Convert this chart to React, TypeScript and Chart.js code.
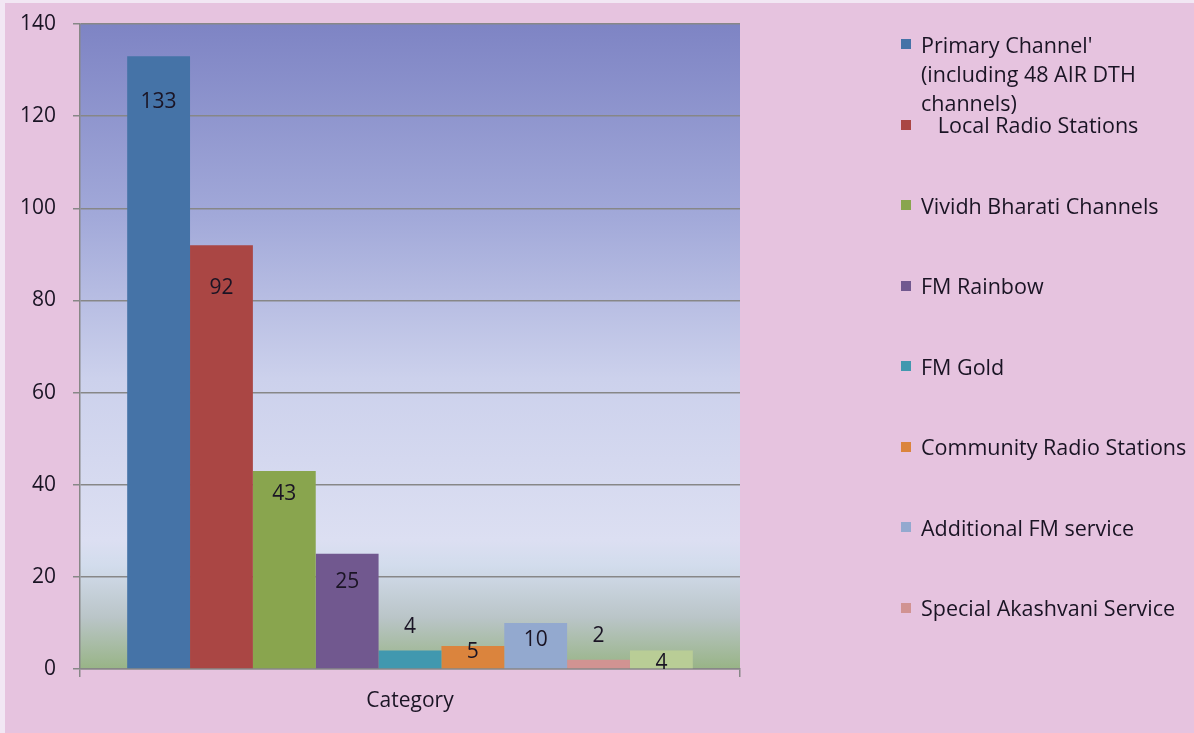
import { useEffect, useRef } from 'react';
import { Chart, registerables } from 'chart.js';

Chart.register(...registerables);

const categories = ['Category'];

const seriesNames = [
  "Primary Channel' (including 48 AIR DTH channels)",
  '   Local Radio Stations',
  'Vividh Bharati Channels',
  'FM Rainbow',
  'FM Gold',
  'Community Radio Stations',
  'Additional FM service',
  'Special Akashvani Service',
  'Other',
];

const seriesValues = [133, 92, 43, 25, 4, 5, 10, 2, 4];

const seriesColors = [
  '#4573A7',
  '#AA4644',
  '#89A54E',
  '#71588F',
  '#4198AF',
  '#DB843D',
  '#93A9CF',
  '#D19392',
  '#B9CD96',
];

// vertical shift of each value label from the top of its bar (px)
const labelOffsets = [46, 43, 23, 28, -24, 6, 17, -24, 12];

// only the first eight series appear in the legend
const legendCount = 8;

const FONT = "'Open Sans', sans-serif";
const TEXT = '#1a1424';
const GRID = '#878787';

const plotBackground = {
  id: 'plotBackground',
  beforeDraw(chart: Chart) {
    const { ctx, chartArea } = chart;
    if (!chartArea) return;
    const g = ctx.createLinearGradient(0, chartArea.top, 0, chartArea.bottom);
    g.addColorStop(0, 'rgb(126,132,196)');
    g.addColorStop(0.3, 'rgb(162,169,217)');
    g.addColorStop(0.55, 'rgb(204,209,236)');
    g.addColorStop(0.8, 'rgb(220,223,242)');
    g.addColorStop(0.84, 'rgb(210,220,236)');
    g.addColorStop(0.92, 'rgb(186,197,200)');
    g.addColorStop(1, 'rgb(152,180,134)');
    ctx.save();
    ctx.fillStyle = g;
    ctx.fillRect(chartArea.left, chartArea.top, chartArea.right - chartArea.left, chartArea.bottom - chartArea.top);
    ctx.restore();
  },
};

const valueLabels = {
  id: 'valueLabels',
  afterDatasetsDraw(chart: Chart) {
    const { ctx } = chart;
    ctx.save();
    ctx.font = `21px ${FONT}`;
    ctx.fillStyle = TEXT;
    ctx.textAlign = 'center';
    ctx.textBaseline = 'middle';
    chart.data.datasets.forEach((ds, i) => {
      const meta = chart.getDatasetMeta(i);
      meta.data.forEach((bar: any, j) => {
        ctx.fillText(String(ds.data[j]), bar.x, bar.y + labelOffsets[i]);
      });
    });
    ctx.restore();
  },
};

export default function App() {
  const canvasRef = useRef<HTMLCanvasElement>(null);
  const chartRef = useRef<Chart | null>(null);

  useEffect(() => {
    if (!canvasRef.current) return;
    chartRef.current?.destroy();

    chartRef.current = new Chart(canvasRef.current, {
      type: 'bar',
      data: {
        labels: categories,
        datasets: seriesNames.map((name, i) => ({
          label: name,
          data: [seriesValues[i]],
          backgroundColor: seriesColors[i],
          borderWidth: 0,
          categoryPercentage: 0.857,
          barPercentage: 1,
        })),
      },
      options: {
        responsive: false,
        animation: false,
        layout: { padding: { top: 24, right: 454, bottom: 0, left: 0 } },
        plugins: {
          legend: { display: false },
          tooltip: { enabled: false },
        },
        scales: {
          y: {
            min: 0,
            max: 140,
            afterFit: (s: any) => {
              s.width = 80;
              s.paddingTop = 0;
              s.paddingBottom = 0;
            },
            ticks: { stepSize: 20, padding: 17, color: TEXT, font: { family: FONT, size: 21 } },
            grid: { color: GRID, lineWidth: 1.5, tickLength: 7 },
            border: { color: GRID, width: 1.5 },
          },
          x: {
            afterFit: (s: any) => {
              s.height = 64;
              s.paddingLeft = 0;
              s.paddingRight = 0;
            },
            ticks: { padding: 11, color: TEXT, font: { family: FONT, size: 21 } },
            grid: { drawOnChartArea: false, color: GRID, lineWidth: 1.5, tickLength: 8 },
            border: { color: GRID, width: 1.5 },
          },
        },
      },
      plugins: [plotBackground, valueLabels],
    });

    return () => {
      chartRef.current?.destroy();
      chartRef.current = null;
    };
  }, []);

  return (
    <div style={{ position: 'fixed', left: 0, top: 0, width: 1194, height: 733, background: '#F2E7F4', overflow: 'hidden' }}>
      <div style={{ position: 'absolute', left: 5, top: 3, right: 0, bottom: 0, background: '#E6C3DF' }} />
      <canvas ref={canvasRef} width={1194} height={733} style={{ position: 'absolute', left: 0, top: 0 }} />
      {seriesNames.slice(0, legendCount).map((name, i) => {
        const center = 44 + i * 80.5;
        return (
          <div key={i} style={{ position: 'absolute', left: 901, top: center - 14.5, width: 293 }}>
            <div style={{ position: 'absolute', left: 0, top: 9.5, width: 10, height: 10, background: seriesColors[i] }} />
            <div
              style={{
                marginLeft: 20,
                font: `21.5px ${FONT}`,
                lineHeight: '29px',
                color: TEXT,
                whiteSpace: i === 0 ? 'normal' : 'pre',
                width: 250,
              }}
            >
              {name}
            </div>
          </div>
        );
      })}
    </div>
  );
}
